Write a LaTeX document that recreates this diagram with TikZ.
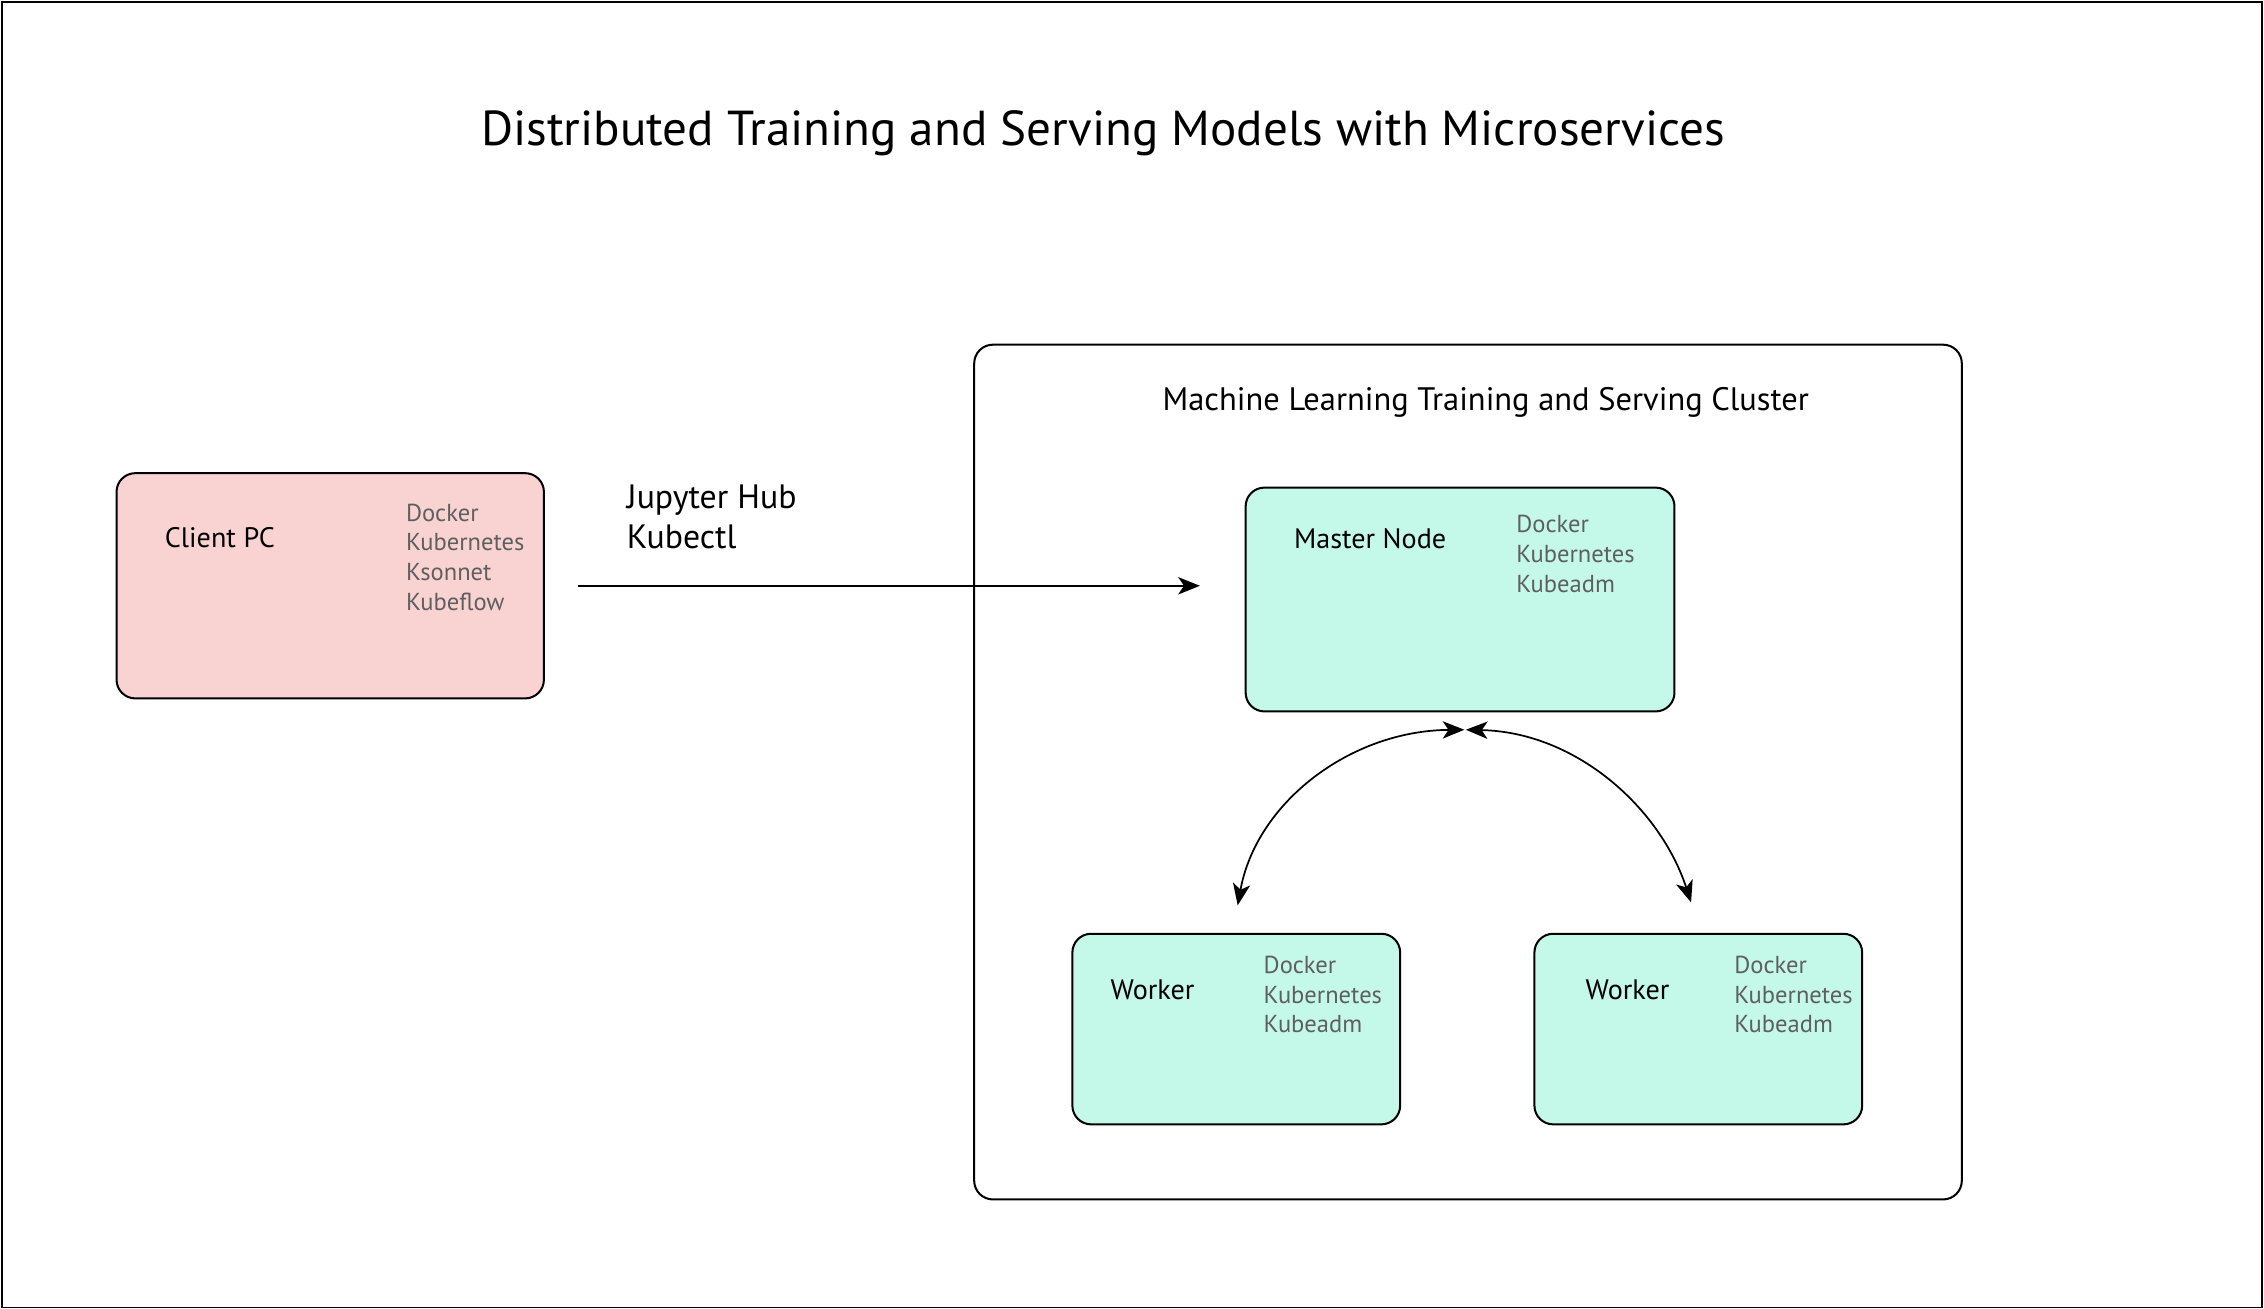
\documentclass[tikz,border=0pt]{standalone}
\usepackage{fontspec}
\setmainfont{PT Sans}
\usetikzlibrary{arrows.meta,calc}
\definecolor{pinkfill}{RGB}{248,211,210}
\definecolor{mintfill}{RGB}{196,248,232}
\definecolor{listgray}{RGB}{95,95,95}
\begin{document}
\begin{tikzpicture}[x=1pt,y=-1pt,
  box/.style={draw=black, line width=1.4pt, rounded corners=13pt, anchor=north west, inner sep=0},
  lbl/.style={anchor=base west, inner sep=0, font=\fontsize{19.5}{22}\selectfont},
  lst/.style={anchor=base west, inner sep=0, align=left, text=listgray, font=\fontsize{17}{20.7}\selectfont},
  arr/.style={-{Stealth[length=15pt,width=12pt,inset=4pt]}, line width=1.2pt},
  darr/.style={{Stealth[length=15pt,width=12pt,inset=4pt]}-{Stealth[length=15pt,width=12pt,inset=4pt]}, line width=1.2pt}]
\useasboundingbox (0,0) rectangle (1568,906);
\node[draw, line width=1pt, minimum width=1565pt, minimum height=904pt, anchor=north west, inner sep=0] (frame) at (1,1) {};
\node[font=\fontsize{34}{38}\selectfont] (title) at (764,92) {Distributed Training and Serving Models with Microservices};

\node[box, minimum width=684pt, minimum height=592pt] (cluster) at (674,238) {};
\node[font=\fontsize{22.5}{26}\selectfont] (ctitle) at (1029,279) {Machine Learning Training and Serving Cluster};

\node[box, fill=pinkfill, minimum width=296pt, minimum height=156pt] (client) at (80,327) {};
\node[lbl] (clientl) at (114,379) {Client PC};
\node[lst] (clientt) at (281,423) {Docker\\Kubernetes\\Ksonnet\\Kubeflow};

\node[anchor=base west, inner sep=0, align=left, font=\fontsize{23.4}{28}\selectfont] (jup) at (434,380) {Jupyter Hub\\Kubectl};

\node[box, fill=mintfill, minimum width=297pt, minimum height=155pt] (master) at (862,337) {};
\node[lbl] (masterl) at (896,380) {Master Node};
\node[lst] (mastert) at (1050,410.4) {Docker\\Kubernetes\\Kubeadm};

\node[box, fill=mintfill, minimum width=227pt, minimum height=132pt] (w1) at (742,646) {};
\node[lbl] (w1l) at (769,692) {Worker};
\node[lst] (w1t) at (875,715.4) {Docker\\Kubernetes\\Kubeadm};

\node[box, fill=mintfill, minimum width=227pt, minimum height=132pt] (w2) at (1062,646) {};
\node[lbl] (w2l) at (1098,692) {Worker};
\node[lst] (w2t) at (1201,715.4) {Docker\\Kubernetes\\Kubeadm};

\coordinate (a1) at ($(client.east)+(23,0)$);
\coordinate (a2) at ($(a1 -| master.west)+(-31,0)$);
\draw[arr] (a1) -- (a2);

\coordinate (ml) at ($(master.south)+(3,12)$);
\coordinate (mr) at ($(master.south)+(4,12)$);
\coordinate (w1top) at ($(w1.north)+(1,-19)$);
\coordinate (w2top) at ($(w2.north)+(-5,-21)$);
\draw[darr] (w1top) .. controls (870,556) and (935,506) .. (ml);
\draw[darr] (mr) .. controls (1092,507) and (1150,560) .. (w2top);
\end{tikzpicture}
\end{document}
